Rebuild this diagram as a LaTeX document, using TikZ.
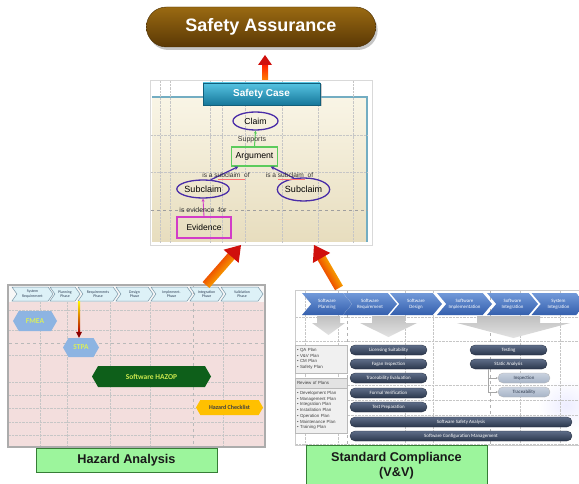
\documentclass[tikz,border=0pt]{standalone}
\usepackage{fontspec}
\setmainfont{Liberation Sans}
\newfontfamily\calfont{Carlito}
\usetikzlibrary{shapes.symbols,shapes.misc,shapes.geometric,shadows,calc,arrows.meta}

\definecolor{brownTop}{HTML}{9A6A12}
\definecolor{brownBot}{HTML}{5A3805}
\definecolor{tealTop}{HTML}{56C4E2}
\definecolor{tealBot}{HTML}{16779A}
\definecolor{beigeA}{HTML}{F9F5E6}
\definecolor{beigeB}{HTML}{E7DDBE}
\definecolor{claimBlue}{HTML}{4A2DA8}
\definecolor{argGreen}{HTML}{5CCB5C}
\definecolor{evPink}{HTML}{D23CC8}
\definecolor{hazPink}{HTML}{F3DEDD}
\definecolor{chevCyan}{HTML}{DDF1F7}
\definecolor{chevEdge}{HTML}{7C98A8}
\definecolor{chevText}{HTML}{2D3E55}
\definecolor{hexBlue}{HTML}{8DB4E2}
\definecolor{hexText}{HTML}{D9EE5C}
\definecolor{hazGreen}{HTML}{0E5F1A}
\definecolor{hazText}{HTML}{CBE84E}
\definecolor{checkGold}{HTML}{FFC000}
\definecolor{vvTop}{HTML}{7199D9}
\definecolor{vvBot}{HTML}{345FAD}
\definecolor{barTop}{HTML}{5E6D88}
\definecolor{barBot}{HTML}{2B374C}
\definecolor{lightBarTop}{HTML}{C9D2DF}
\definecolor{lightBarBot}{HTML}{A7B4C7}
\definecolor{labelGreen}{HTML}{9CF59C}
\definecolor{headRed}{HTML}{D0100C}

% fat arrow: [shaft shading]{tail}{tip}{shaft half width}{head half width}{head length}{head colour}
\newcommand\fatarrow[7][]{%
  \coordinate (#2-base) at ($(#3)!#6!(#2)$);
  \coordinate (#2-neck) at ($(#3)!#6-1pt!(#2)$);
  \shade[#1] ($(#2)!#4!90:(#3)$) -- ($(#2-neck)!#4!90:(#3)$)
    -- ($(#2-neck)!#4!-90:(#3)$) -- ($(#2)!#4!-90:(#3)$) -- cycle;
  \fill[#7] ($(#2-base)!#5!90:(#3)$) -- (#3) -- ($(#2-base)!#5!-90:(#3)$) -- cycle;
}

\begin{document}
\begin{tikzpicture}[x=1pt,y=-1pt,
  gridline/.style={gray!45, densely dotted, line width=0.4pt},
  darkgrid/.style={gray!75, dashed, line width=0.5pt},
  assure/.style={rounded rectangle, minimum width=236pt, minimum height=40pt,
    top color=brownTop, bottom color=brownBot, draw=brownBot!80!black,
    text=white, font=\bfseries\fontsize{18}{20}\selectfont,
    drop shadow={shadow xshift=2pt, shadow yshift=-3pt, fill=black!45, opacity=0.5}},
  titlebox/.style={rectangle, minimum width=117pt, minimum height=22pt,
    top color=tealTop, bottom color=tealBot, draw=tealBot!80!black,
    text=white, font=\bfseries\fontsize{10}{12}\selectfont,
    drop shadow={shadow xshift=1.5pt, shadow yshift=-1.5pt, fill=black!40, opacity=0.5}},
  gsnell/.style={ellipse, draw=claimBlue, line width=1.3pt, inner sep=0pt},
  gsnbox/.style={rectangle, line width=1.2pt, inner sep=0pt},
  gsnlabel/.style={inner sep=0pt, text=black!80},
  hzchev/.style={signal, signal to=east, signal from=west, signal pointer angle=110,
    draw=chevEdge, fill=chevCyan, line width=0.5pt, minimum height=14pt, inner sep=0pt,
    align=center, text=chevText, font=\calfont\fontsize{3.9}{4.3}\selectfont},
  hexnode/.style={signal, signal to=east and west, signal pointer angle=120,
    inner sep=0pt, font=\calfont\bfseries\fontsize{7.5}{8}\selectfont},
  vvchev/.style={signal, signal to=east, signal from=west, signal pointer angle=100,
    minimum height=22pt, inner sep=0pt, top color=vvTop, bottom color=vvBot,
    align=center, text=white, font=\calfont\fontsize{4.9}{6.2}\selectfont},
  blockarrow/.style={top color=gray!50, bottom color=gray!22},
  planbox/.style={rectangle, fill=gray!12, draw=gray!55, line width=0.4pt,
    minimum width=52pt, inner sep=2pt, text width=48pt, align=left,
    text=black!75, font=\fontsize{4.4}{5.7}\selectfont},
  bar/.style={rounded rectangle, minimum height=10pt, inner sep=0pt,
    top color=barTop, bottom color=barBot, draw=barBot!80!black, line width=0.3pt,
    text=white, font=\calfont\fontsize{4.9}{5.5}\selectfont},
  lbar/.style={rounded rectangle, minimum height=10pt, inner sep=0pt,
    top color=lightBarTop, bottom color=lightBarBot, draw=gray!60, line width=0.3pt,
    text=barBot, font=\calfont\fontsize{4.9}{5.5}\selectfont},
  caption/.style={rectangle, fill=labelGreen, draw=gray!60!green!70!black, line width=0.8pt,
    minimum width=181pt, inner sep=0pt, align=center, text=black!90,
    font=\bfseries\fontsize{12.7}{15}\selectfont},
  warmarrow/.style={left color=yellow!85!orange, right color=red!90!black},
]
\useasboundingbox (0,0) rectangle (579,484);
\clip (0,0) rectangle (579,484);

% ---------------- Safety Assurance ----------------
\coordinate (topt) at (265,80);
\coordinate (topp) at (265,55);
\fatarrow[top color=red!80!orange, bottom color=orange]{topt}{topp}{3pt}{7pt}{10pt}{headRed}
\node[assure] (sa) at (261,27) {Safety Assurance};

% ---------------- Safety Case panel ----------------
\fill[white, drop shadow={shadow xshift=1pt, shadow yshift=-1.5pt, fill=black!25, opacity=0.6}]
  (150,80) rectangle (372,245);
\draw[gray!30, line width=0.4pt] (150,80) rectangle (372,245);
\shade[top color=beigeA, bottom color=beigeB] (152,97) rectangle (367,242);
\draw[tealBot!60, line width=1.2pt] (152,97) -- (367,97) -- (367,242);
\foreach \gx in {160,170,210,222,245,282,318,353}
  \draw[gridline] (\gx,81) -- (\gx,243);
\foreach \gy in {135,172}
  \draw[gridline] (151,\gy) -- (368,\gy);
\draw[darkgrid] (151,210) -- (368,210);

\node[titlebox] (sctitle) at (261.5,94) {Safety Case};

\node[gsnell, minimum width=45pt, minimum height=18pt, font=\fontsize{8.7}{10}\selectfont] (claim) at (255.5,121) {Claim};
\node[gsnbox, draw=argGreen, minimum width=46pt, minimum height=19pt, font=\fontsize{8.7}{10}\selectfont] (arg) at (254.5,156.5) {Argument};
\node[gsnell, minimum width=46pt, minimum height=18pt, font=\fontsize{9}{10}\selectfont] (lsub) at (203,189) {Subclaim};
\node[gsnell, minimum width=46pt, minimum height=23pt, font=\fontsize{9}{10}\selectfont] (rsub) at (303.5,189.5) {Subclaim};
\node[gsnbox, draw=evPink, minimum width=54pt, minimum height=21pt, font=\fontsize{8.5}{10}\selectfont] (ev) at (204,227.5) {Evidence};

\draw[argGreen, line width=1pt, -{Stealth[length=3pt,width=3pt]}] (arg.north) -- (claim.south);
\draw[claimBlue, line width=1.2pt, -{Stealth[length=4pt,width=4pt]}] (lsub.50) -- (arg.212);
\draw[claimBlue, line width=1.2pt, -{Stealth[length=4pt,width=4pt]}] (rsub.130) -- (arg.328);
\draw[evPink, line width=0.9pt, -{Stealth[length=3pt,width=3pt]}] (ev.north) -- (lsub.south);

\node[gsnlabel, font=\fontsize{7}{8}\selectfont] (supp) at (252,139.5) {Supports};
\node[gsnlabel, font=\fontsize{6.6}{8}\selectfont] (lsubl) at (226,175.5) {is a subclaim\ \ of};
\node[gsnlabel, font=\fontsize{6.6}{8}\selectfont] (rsubl) at (289.5,175.5) {is a subclaim\ \ of};
\node[gsnlabel, font=\fontsize{7}{8}\selectfont] (evl) at (203,210) {is evidence\ \ for};
\draw[red!55, line width=0.4pt] (218,179.2) -- (245,179.2);
\draw[red!55, line width=0.4pt] (278,179.2) -- (305,179.2);

% ---------------- Hazard Analysis panel ----------------
\fill[hazPink] (8,285) rectangle (265,447);
\fill[gray!6] (8,285) rectangle (265,302);
\foreach \gx in {40,67,110,150,223}
  \draw[gridline] (\gx,302) -- (\gx,446);
\foreach \gy in {310,330,355,382,395,408,422,435}
  \draw[gridline] (9,\gy) -- (264,\gy);
\draw[darkgrid, gray!55] (193,285) -- (193,446);
\draw[darkgrid, gray!55] (9,343) -- (264,343);
\draw[gray!65, line width=1.6pt] (8,285) rectangle (265,447);

\node[hzchev, minimum width=41pt] (h1) at (32.5,294) {System\\Requirement};
\node[hzchev, minimum width=30pt] (h2) at (65,294) {Planning\\Phase};
\node[hzchev, minimum width=40pt] (h3) at (98,294) {Requirements\\Phase};
\node[hzchev, minimum width=37pt] (h4) at (134.5,294) {Design\\Phase};
\node[hzchev, minimum width=41pt] (h5) at (171.5,294) {Implement.\\Phase};
\node[hzchev, minimum width=33pt] (h6) at (206.5,294) {Integration\\Phase};
\node[hzchev, minimum width=42pt] (h7) at (242,294) {Validation\\Phase};

\node[hexnode, fill=hexBlue, text=hexText, minimum width=44pt, minimum height=20pt] (fmea) at (35,321) {FMEA};
\node[hexnode, fill=hexBlue, text=hexText, minimum width=36pt, minimum height=19pt] (stpa) at (81,347.5) {STPA};
\node[hexnode, fill=hazGreen, text=hazText, minimum width=119pt, minimum height=21pt] (hazop) at (151.5,376.5) {Software HAZOP};
\node[hexnode, fill=checkGold, text=black!75, minimum width=67pt, minimum height=15pt,
  font=\calfont\bfseries\fontsize{6}{7}\selectfont] (check) at (229.5,407.5) {Hazard Checklist};

\coordinate (hzsrc) at (79,301.5);
\coordinate (hztip) at (stpa.north -| hzsrc);
\fatarrow[top color=yellow!90!orange, bottom color=red!70!black]{hzsrc}{hztip}{1pt}{3pt}{6pt}{red!55!black}

% ---------------- V&V panel ----------------
\fill[white] (295,290) rectangle (580,445);
\shade[inner color=blue!7, outer color=white] (566,405) ellipse (28 and 26);
\foreach \gx in {305,338,405,433,520,560}
  \draw[gridline] (\gx,291) -- (\gx,444);
\foreach \gy in {317,341,385,400,415,444}
  \draw[gridline] (296,\gy) -- (579,\gy);
\draw[darkgrid, gray!60] (347,291) -- (347,444);
\draw[darkgrid, gray!60] (490,291) -- (490,444);
\draw[gray!40, line width=0.6pt] (295,290) rectangle (580,445);

\node[vvchev, minimum width=50pt] (v1) at (327,304) {Software\\Planning};
\node[vvchev, minimum width=54pt] (v2) at (370,304) {Software\\Requirement};
\node[vvchev, minimum width=52pt] (v3) at (416,304) {Software\\Design};
\node[vvchev, minimum width=55pt] (v4) at (464.5,304) {Software\\Implementation};
\node[vvchev, minimum width=51pt] (v5) at (512.5,304) {Software\\Integration};
\node[vvchev, minimum width=54pt] (v6) at (558.5,304) {System\\Integration};

\shade[blockarrow] (317,316) -- (340,316) -- (340,323) -- (345,323) -- (328.5,335)
  -- (312,323) -- (317,323) -- cycle;
\shade[blockarrow] (372,316) -- (405,316) -- (405,323) -- (417,323) -- (388.5,337)
  -- (360,323) -- (372,323) -- cycle;
\shade[blockarrow] (477,316) -- (540,316) -- (540,323) -- (570,323) -- (513.5,338)
  -- (457,323) -- (477,323) -- cycle;

\node[planbox, minimum height=28pt] (plans1) at (321,359)
  {• QA Plan\\• V\&V Plan\\• CM Plan\\• Safety Plan};
\node[planbox, fill=gray!22, minimum height=10pt] (review) at (321,383) {Review of Plans};
\node[planbox, minimum height=45pt] (plans2) at (321,410.5)
  {• Development Plan\\• Management Plan\\• Integration Plan\\• Installation Plan\\• Operation Plan\\• Maintenance Plan\\• Training Plan};

\node[bar, minimum width=77pt] (lic) at (388.5,350) {Licensing Suitability};
\node[bar, minimum width=77pt] (fagan) at (388.5,364) {Fagan Inspection};
\node[bar, minimum width=77pt] (treval) at (388.5,378) {Traceability Evaluation};
\node[bar, minimum width=77pt] (formal) at (388.5,393) {Formal Verification};
\node[bar, minimum width=77pt] (testprep) at (388.5,407) {Test Preparation};
\node[bar, minimum width=222pt] (ssa) at (461,422) {Software Safety Analysis};
\node[bar, minimum width=222pt] (scm) at (461,436) {Software Configuration Management};
\node[bar, minimum width=77pt] (testing) at (508.5,350) {Testing};
\node[bar, minimum width=77pt] (static) at (508.5,364) {Static Analysis};
\node[lbar, minimum width=52pt] (insp) at (524,378) {Inspection};
\node[lbar, minimum width=52pt] (trace) at (524,392) {Traceability};

\coordinate (branch) at ($(static.south west)+(13,0)$);
\draw[gray!70, line width=0.5pt, -{Stealth[length=2pt,width=2pt]}] (branch) |- (insp.west);
\draw[gray!70, line width=0.5pt, -{Stealth[length=2pt,width=2pt]}] (branch) |- (trace.west);

% ---------------- arrows up to the Safety Case ----------------
\coordinate (a1t) at (206,285);
\coordinate (a1p) at (241,245);
\fatarrow[warmarrow, shading angle=228]{a1t}{a1p}{4.5pt}{10pt}{15pt}{headRed}
\coordinate (a2t) at (339,288);
\coordinate (a2p) at (314,245);
\fatarrow[warmarrow, shading angle=300]{a2t}{a2p}{4.5pt}{10pt}{15pt}{headRed}

% ---------------- captions ----------------
\node[caption, minimum height=24pt] (hazlbl) at (126.5,460) {Hazard Analysis};
\node[caption, minimum height=42pt] (stdlbl) at (396.5,466) {Standard Compliance\\(V\&V)};
\end{tikzpicture}
\end{document}
